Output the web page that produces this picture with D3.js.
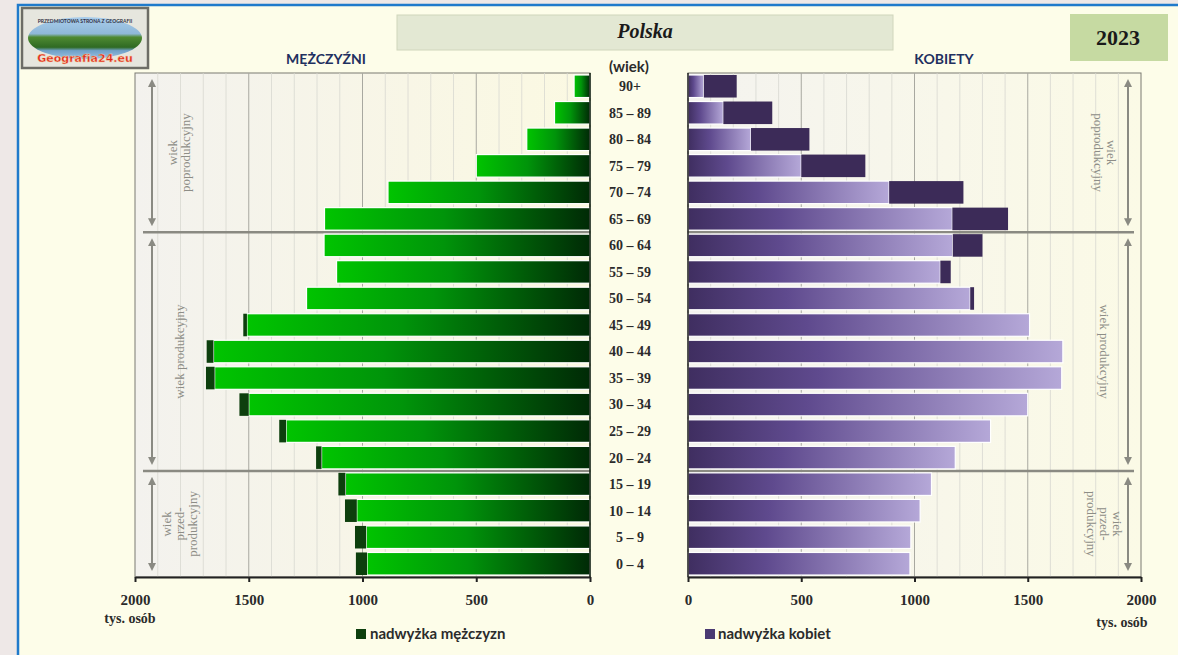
<!DOCTYPE html>
<html>
<head>
<meta charset="utf-8">
<script src="https://cdn.jsdelivr.net/npm/d3@7"></script>
<style>
  html, body { margin: 0; padding: 0; background: #eee8e7; }
  svg { display: block; }
  text { font-variant-ligatures: none; }
</style>
</head>
<body>
<div id="chart"></div>
<script>
  // dane: tys. osób, od najstarszych do najmłodszych
  const ages = ['90+', '85 – 89', '80 – 84', '75 – 79', '70 – 74', '65 – 69', '60 – 64', '55 – 59', '50 – 54',
    '45 – 49', '40 – 44', '35 – 39', '30 – 34', '25 – 29', '20 – 24', '15 – 19', '10 – 14', '5 – 9', '0 – 4'];
  const males = [70, 156, 278, 500, 888, 1167, 1169, 1114, 1246, 1524, 1685, 1688, 1541, 1366, 1204, 1106, 1077, 1033, 1029];
  const females = [215, 372, 536, 783, 1216, 1413, 1300, 1160, 1263, 1508, 1655, 1650, 1500, 1336, 1180, 1075, 1025, 984, 980];
  const axisTicks = [0, 500, 1000, 1500, 2000];
  const groups = [
    { lines: ['wiek', 'poprodukcyjny'], from: '90+', to: '65 – 69' },
    { lines: ['wiek produkcyjny'], from: '60 – 64', to: '20 – 24' },
    { lines: ['wiek', 'przed-', 'produkcyjny'], from: '15 – 19', to: '0 – 4' }
  ];

  const W = 1178, H = 655;
  const COLORS = {
    cream: '#fdfde9',
    frame: '#1f7acb',
    grid: '#d8d8d0',
    gridMajor: '#a8a8a0',
    navy: '#1f3060',
    text: '#2b2b2b',
    note: '#8d8d86',
    maleSurplus: '#0d3f0d',
    femaleSurplus: '#3c2b58'
  };
  const serif = '"Liberation Serif", "DejaVu Serif", serif';
  const sans = 'Lato, "Open Sans", sans-serif';

  const rows = ages.map((a, i) => ({ age: a, m: males[i], f: females[i] }));

  const svg = d3.select('#chart').append('svg').attr('width', W).attr('height', H);
  const defs = svg.append('defs');

  // tło
  svg.append('rect').attr('width', W).attr('height', H).attr('fill', '#eee8e7');
  svg.append('rect').attr('x', 18).attr('y', 5).attr('width', W).attr('height', H)
    .attr('fill', COLORS.cream).attr('stroke', COLORS.frame).attr('stroke-width', 2.5);

  const plotTop = 73, plotBottom = 577;
  const xL = d3.scaleLinear().domain([0, 2000]).range([590, 135]);
  const xR = d3.scaleLinear().domain([0, 2000]).range([688, 1141]);
  const y = d3.scaleBand().domain(ages).range([plotTop, plotBottom]).paddingInner(0.15).paddingOuter(0.075);

  const mk = (id, stops, x1, x2, y2) => {
    const g = defs.append('linearGradient').attr('id', id)
      .attr('x1', x1).attr('x2', x2).attr('y1', '0%').attr('y2', y2 || '0%');
    stops.forEach(s => g.append('stop').attr('offset', s[0]).attr('stop-color', s[1]));
  };
  mk('gMale', [['0%', '#00c400'], ['45%', '#00940a'], ['100%', '#002a06']], '0%', '100%');
  mk('gFemale', [['0%', '#3f2e60'], ['35%', '#5f4a8e'], ['100%', '#b5a8d8']], '0%', '100%');
  mk('gPlotL', [['0%', '#f3f2ee'], ['60%', '#f8f6e6'], ['100%', '#fbf9e2']], '0%', '100%');
  mk('gPlotR', [['0%', '#f4f3ef'], ['100%', '#fbfae6']], '0%', '100%');
  mk('gLogo', [['0%', '#a9cdec'], ['40%', '#8fb8d8'], ['48%', '#4f8a32'], ['72%', '#2f6a22'], ['80%', '#6fa0c8'], ['100%', '#9cc3e2']], '0%', '0%', '100%');

  // tła paneli
  svg.append('rect').attr('x', xL(2000)).attr('y', plotTop).attr('width', xL(0) - xL(2000)).attr('height', plotBottom - plotTop)
    .attr('fill', 'url(#gPlotL)').attr('stroke', '#7a7a72').attr('stroke-width', 1);
  svg.append('rect').attr('x', xR(0)).attr('y', plotTop).attr('width', xR(2000) - xR(0)).attr('height', plotBottom - plotTop)
    .attr('fill', 'url(#gPlotR)').attr('stroke', '#7a7a72').attr('stroke-width', 1);

  // siatka
  const gridVals = d3.range(100, 2000, 100);
  [xL, xR].forEach(x => {
    svg.append('g').selectAll('line').data(gridVals).enter().append('line')
      .attr('x1', d => x(d)).attr('x2', d => x(d)).attr('y1', plotTop).attr('y2', plotBottom)
      .attr('stroke', d => d % 500 === 0 ? COLORS.gridMajor : COLORS.grid)
      .attr('stroke-width', d => d % 500 === 0 ? 1 : 0.8);
  });

  // separatory grup wiekowych
  const sepYs = [y('65 – 69') + y.bandwidth() + y.step() * 0.075, y('20 – 24') + y.bandwidth() + y.step() * 0.075];
  sepYs.forEach(sy => {
    svg.append('line').attr('x1', 143).attr('x2', xL(0)).attr('y1', sy).attr('y2', sy)
      .attr('stroke', '#8a8a82').attr('stroke-width', 2.5);
    svg.append('line').attr('x1', xR(0)).attr('x2', 1134).attr('y1', sy).attr('y2', sy)
      .attr('stroke', '#8a8a82').attr('stroke-width', 2.5);
  });

  // słupki mężczyzn
  const gm = svg.append('g');
  gm.selectAll('.common').data(rows).enter().append('rect')
    .attr('x', d => xL(Math.min(d.m, d.f))).attr('y', d => y(d.age))
    .attr('width', d => xL(0) - xL(Math.min(d.m, d.f))).attr('height', y.bandwidth())
    .attr('fill', 'url(#gMale)').attr('stroke', '#ffffff').attr('stroke-width', 1.2);
  gm.selectAll('.surplus').data(rows.filter(d => d.m > d.f)).enter().append('rect')
    .attr('x', d => xL(d.m)).attr('y', d => y(d.age))
    .attr('width', d => xL(d.f) - xL(d.m)).attr('height', y.bandwidth())
    .attr('fill', COLORS.maleSurplus);

  // słupki kobiet
  const gf = svg.append('g');
  gf.selectAll('.common').data(rows).enter().append('rect')
    .attr('x', xR(0)).attr('y', d => y(d.age))
    .attr('width', d => xR(Math.min(d.m, d.f)) - xR(0)).attr('height', y.bandwidth())
    .attr('fill', 'url(#gFemale)').attr('stroke', '#ffffff').attr('stroke-width', 1.2);
  gf.selectAll('.surplus').data(rows.filter(d => d.f > d.m)).enter().append('rect')
    .attr('x', d => xR(d.m)).attr('y', d => y(d.age))
    .attr('width', d => xR(d.f) - xR(d.m)).attr('height', y.bandwidth())
    .attr('fill', COLORS.femaleSurplus);

  // osie pionowe
  svg.append('line').attr('x1', xL(0)).attr('x2', xL(0)).attr('y1', plotTop).attr('y2', plotBottom)
    .attr('stroke', '#0a1a0a').attr('stroke-width', 1.5);
  svg.append('line').attr('x1', xR(0)).attr('x2', xR(0)).attr('y1', plotTop).attr('y2', plotBottom)
    .attr('stroke', '#222').attr('stroke-width', 1.5);

  // osie poziome
  const styleAxis = g => {
    g.select('.domain').attr('stroke', '#222').attr('stroke-width', 2);
    g.selectAll('.tick line').attr('stroke', '#222').attr('stroke-width', 2);
    g.selectAll('.tick text').attr('font-family', serif).attr('font-weight', 700)
      .attr('font-size', 15).attr('fill', COLORS.text).attr('dy', '1.35em');
  };
  svg.append('g').attr('transform', `translate(0,${plotBottom})`)
    .call(d3.axisBottom(xL).tickValues(axisTicks).tickFormat(d3.format('d')).tickSize(5).tickSizeOuter(0))
    .call(styleAxis);
  svg.append('g').attr('transform', `translate(0,${plotBottom})`)
    .call(d3.axisBottom(xR).tickValues(axisTicks).tickFormat(d3.format('d')).tickSize(5).tickSizeOuter(0))
    .call(styleAxis);

  svg.append('text').attr('x', 130).attr('y', 623).attr('text-anchor', 'middle')
    .attr('font-family', serif).attr('font-weight', 700).attr('font-size', 14).attr('fill', COLORS.text)
    .text('tys. osób');
  svg.append('text').attr('x', 1122).attr('y', 627).attr('text-anchor', 'middle')
    .attr('font-family', serif).attr('font-weight', 700).attr('font-size', 14).attr('fill', COLORS.text)
    .text('tys. osób');

  // etykiety wieku
  svg.append('g').selectAll('text').data(ages).enter().append('text')
    .attr('x', 630).attr('y', d => y(d) + y.bandwidth() / 2)
    .attr('dy', '0.35em').attr('text-anchor', 'middle')
    .attr('font-family', serif).attr('font-weight', 700).attr('font-size', 14).attr('fill', COLORS.text)
    .text(d => d);
  svg.append('text').attr('x', 629).attr('y', 72).attr('text-anchor', 'middle')
    .attr('font-family', sans).attr('font-weight', 700).attr('font-size', 15).attr('fill', COLORS.text)
    .text('(wiek)');

  // nagłówki płci
  svg.append('text').attr('x', 326).attr('y', 64).attr('text-anchor', 'middle')
    .attr('font-family', sans).attr('font-weight', 700).attr('font-size', 14).attr('fill', COLORS.navy)
    .text('MĘŻCZYŹNI');
  svg.append('text').attr('x', 944).attr('y', 64).attr('text-anchor', 'middle')
    .attr('font-family', sans).attr('font-weight', 700).attr('font-size', 14).attr('fill', COLORS.navy)
    .text('KOBIETY');

  // tytuł i rok
  svg.append('rect').attr('x', 397).attr('y', 15).attr('width', 496).attr('height', 35)
    .attr('fill', '#e3e8d3').attr('stroke', '#d0d6bc').attr('stroke-width', 1);
  svg.append('text').attr('x', 645).attr('y', 38).attr('text-anchor', 'middle')
    .attr('font-family', serif).attr('font-style', 'italic').attr('font-weight', 700)
    .attr('font-size', 20).attr('fill', '#1a1a1a').text('Polska');
  svg.append('rect').attr('x', 1070).attr('y', 14).attr('width', 98).attr('height', 47)
    .attr('fill', '#c6daa2');
  svg.append('text').attr('x', 1118).attr('y', 45).attr('text-anchor', 'middle')
    .attr('font-family', serif).attr('font-weight', 700).attr('font-size', 22).attr('fill', '#1a1a1a')
    .text('2023');

  // strzałki i opisy grup
  defs.append('marker').attr('id', 'arr').attr('viewBox', '0 0 10 10').attr('refX', 5).attr('refY', 5)
    .attr('markerWidth', 4).attr('markerHeight', 4).attr('orient', 'auto-start-reverse')
    .append('path').attr('d', 'M0,0 L10,5 L0,10 z').attr('fill', '#8a8a82');

  groups.forEach(gr => {
    const y1 = y(gr.from) - y.step() * 0.075 + 6;
    const y2 = y(gr.to) + y.bandwidth() + y.step() * 0.075 - 6;
    const mid = (y1 + y2) / 2;
    [[152, -90, 179], [1128, 90, 1105]].forEach(([ax, rot, tx]) => {
      svg.append('line').attr('x1', ax).attr('x2', ax).attr('y1', y1 + 4).attr('y2', y2 - 4)
        .attr('stroke', '#8a8a82').attr('stroke-width', 2)
        .attr('marker-start', 'url(#arr)').attr('marker-end', 'url(#arr)');
      const n = gr.lines.length;
      const lh = 13;
      const t = svg.append('text')
        .attr('transform', `translate(${tx},${mid}) rotate(${rot})`)
        .attr('text-anchor', 'middle').attr('font-family', serif).attr('font-size', 13)
        .attr('fill', COLORS.note);
      gr.lines.forEach((l, i) => {
        t.append('tspan').attr('x', 0).attr('y', (i - (n - 1) / 2) * lh).attr('dy', '0.35em').text(l);
      });
    });
  });

  // legenda
  svg.append('rect').attr('x', 356).attr('y', 629).attr('width', 10).attr('height', 10).attr('fill', COLORS.maleSurplus);
  svg.append('text').attr('x', 370).attr('y', 639)
    .attr('font-family', sans).attr('font-weight', 700).attr('font-size', 15).attr('fill', COLORS.text)
    .text('nadwyżka mężczyzn');
  svg.append('rect').attr('x', 705).attr('y', 629).attr('width', 10).attr('height', 10).attr('fill', '#4a3a72');
  svg.append('text').attr('x', 718).attr('y', 639)
    .attr('font-family', sans).attr('font-weight', 700).attr('font-size', 15).attr('fill', COLORS.text)
    .text('nadwyżka kobiet');

  // logo
  const logo = svg.append('g').attr('transform', 'translate(22,8)');
  logo.append('rect').attr('width', 126).attr('height', 60).attr('fill', '#e6e6de')
    .attr('stroke', '#6d6d66').attr('stroke-width', 2.5);
  logo.append('ellipse').attr('cx', 63).attr('cy', 30).attr('rx', 57).attr('ry', 21).attr('fill', 'url(#gLogo)');
  logo.append('text').attr('x', 63).attr('y', 15).attr('text-anchor', 'middle')
    .attr('font-family', sans).attr('font-size', 5).attr('font-weight', 700).attr('fill', '#334')
    .text('PRZEDMIOTOWA STRONA Z GEOGRAFII');
  logo.append('text').attr('x', 63).attr('y', 54).attr('text-anchor', 'middle')
    .attr('font-family', '"DejaVu Sans", sans-serif').attr('font-size', 11).attr('font-weight', 700).attr('fill', '#e0261a')
    .attr('stroke', '#f5d0a0').attr('stroke-width', 0.4)
    .text('Geografia24.eu');
</script>
</body>
</html>
